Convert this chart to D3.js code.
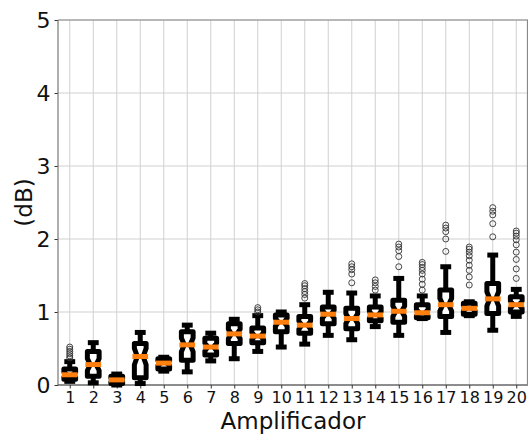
<!DOCTYPE html>
<html><head><meta charset="utf-8">
<script src="https://cdn.jsdelivr.net/npm/d3@7"></script>
<style>body{margin:0;background:#fff}svg{display:block}text{font-family:"DejaVu Sans",sans-serif}</style>
</head><body>
<svg id="c" width="528" height="434"></svg>
<script>
const categories = d3.range(1, 21).map(String);
const whiskerLo = [0.05,0.03,0.00,0.02,0.19,0.18,0.33,0.36,0.46,0.52,0.56,0.68,0.62,0.80,0.68,0.91,0.72,0.95,0.75,0.94];
const q1 =        [0.08,0.12,0.02,0.10,0.22,0.34,0.41,0.57,0.58,0.73,0.71,0.84,0.77,0.88,0.86,0.92,0.94,0.97,0.98,1.00];
const median =    [0.14,0.28,0.07,0.39,0.30,0.55,0.52,0.70,0.67,0.86,0.82,0.97,0.91,0.96,1.01,0.99,1.10,1.05,1.18,1.10];
const q3 =        [0.22,0.46,0.12,0.57,0.36,0.73,0.64,0.84,0.78,0.96,0.94,1.07,1.05,1.07,1.16,1.10,1.30,1.12,1.39,1.21];
const whiskerHi = [0.32,0.58,0.15,0.72,0.38,0.82,0.71,0.90,0.95,1.00,1.10,1.27,1.26,1.22,1.46,1.22,1.62,1.14,1.78,1.31];
const outliers = [
  [0.37,0.40,0.43,0.46,0.49,0.52],[],[],[],[],[],[],[],
  [1.00,1.03,1.06],[],
  [1.19,1.24,1.28,1.32,1.36,1.39],[],
  [1.40,1.52,1.58,1.62,1.66],
  [1.30,1.35,1.40,1.44],
  [1.62,1.76,1.84,1.89,1.93],
  [1.30,1.38,1.45,1.52,1.57,1.61,1.65,1.68],
  [1.83,2.00,2.10,2.15,2.19],
  [1.37,1.48,1.57,1.64,1.71,1.77,1.82,1.86,1.89],
  [2.03,2.21,2.33,2.38,2.43],
  [1.46,1.59,1.72,1.82,1.92,1.99,2.04,2.08,2.11]
];
const sampleN = 43;
const yTicks = [0,1,2,3,4,5];

const svg = d3.select("#c");
const L = 58, R = 528, T = 20, B = 385;
const x = d3.scaleLinear().domain([0.5, 20.5]).range([L, R]);
const y = d3.scaleLinear().domain([0, 5]).range([B, T]);
const unit = x(1) - x(0);
const bw = unit * 0.5;

// grid
const g = svg.append("g");
g.selectAll(".vg").data(categories).enter().append("line")
  .attr("x1", (d,i)=>x(i+1)).attr("x2", (d,i)=>x(i+1)).attr("y1", T).attr("y2", B)
  .attr("stroke", "#d0d0d0").attr("stroke-width", 1);
g.selectAll(".hg").data(yTicks).enter().append("line")
  .attr("x1", L).attr("x2", R).attr("y1", d=>y(d)).attr("y2", d=>y(d))
  .attr("stroke", "#d0d0d0").attr("stroke-width", 1);

// axes
const xAxis = d3.axisBottom(x).tickValues(d3.range(1,21)).tickFormat(d=>categories[d-1]).tickSize(3.5).tickPadding(3);
const gx = svg.append("g").attr("transform", `translate(0,${B})`).call(xAxis);
gx.select(".domain").remove();
gx.selectAll(".tick line").attr("stroke", "#333");
gx.selectAll("text").attr("font-size", 16).attr("fill", "#111").attr("font-family", "DejaVu Sans");
const yAxis = d3.axisLeft(y).tickValues(yTicks).tickFormat(d3.format("d")).tickSize(3.5).tickPadding(4);
const gy = svg.append("g").attr("transform", `translate(${L},0)`).call(yAxis);
gy.select(".domain").remove();
gy.selectAll(".tick line").attr("stroke", "#333");
gy.selectAll("text").attr("font-size", 22).attr("fill", "#111").attr("font-family", "DejaVu Sans");

// spines
svg.append("line").attr("x1", L).attr("x2", L).attr("y1", T).attr("y2", B).attr("stroke", "#777").attr("stroke-width", 1.2);
svg.append("line").attr("x1", L).attr("x2", R).attr("y1", B).attr("y2", B).attr("stroke", "#333").attr("stroke-width", 1.2);
svg.append("line").attr("x1", L).attr("x2", R).attr("y1", T).attr("y2", T).attr("stroke", "#888").attr("stroke-width", 1.2);
svg.append("line").attr("x1", R-0.5).attr("x2", R-0.5).attr("y1", T).attr("y2", B).attr("stroke", "#888").attr("stroke-width", 1.2);

// boxes
const boxes = svg.append("g");
categories.forEach((c, i) => {
  const cx = x(i+1);
  const iqr = q3[i] - q1[i];
  const ciLo = median[i] - 1.57*iqr/Math.sqrt(sampleN);
  const ciHi = median[i] + 1.57*iqr/Math.sqrt(sampleN);
  const bl = cx - bw/2, br = cx + bw/2, nl = cx - bw/4, nr = cx + bw/4;
  const lw = 5;
  boxes.append("line").attr("x1", cx).attr("x2", cx).attr("y1", y(q1[i])).attr("y2", y(whiskerLo[i])).attr("stroke", "#000").attr("stroke-width", lw);
  boxes.append("line").attr("x1", cx).attr("x2", cx).attr("y1", y(q3[i])).attr("y2", y(whiskerHi[i])).attr("stroke", "#000").attr("stroke-width", lw);
  [whiskerLo[i], whiskerHi[i]].forEach(v => {
    boxes.append("line").attr("x1", cx - bw/4).attr("x2", cx + bw/4).attr("y1", y(v)).attr("y2", y(v)).attr("stroke", "#000").attr("stroke-width", lw).attr("stroke-linecap", "square");
  });
  const pts = [[bl,q1[i]],[br,q1[i]],[br,ciLo],[nr,median[i]],[br,ciHi],[br,q3[i]],[bl,q3[i]],[bl,ciHi],[nl,median[i]],[bl,ciLo]];
  boxes.append("path").attr("d", d3.line().x(p=>p[0]).y(p=>y(p[1]))(pts) + "Z")
    .attr("fill", "#fff").attr("stroke", "#000").attr("stroke-width", lw).attr("stroke-linejoin", "round");
  boxes.append("line").attr("x1", bl - 2).attr("x2", br + 2).attr("y1", y(median[i])).attr("y2", y(median[i]))
    .attr("stroke", "#ff7f0e").attr("stroke-width", 5);
  outliers[i].forEach(v => {
    boxes.append("circle").attr("cx", cx).attr("cy", y(v)).attr("r", 3)
      .attr("fill", "none").attr("stroke", "#333").attr("stroke-width", 0.9);
  });
});

// labels
svg.append("text").attr("x", (L+R)/2).attr("y", 429).attr("text-anchor", "middle").attr("font-size", 23).attr("fill", "#111").text("Amplificador");
svg.append("text").attr("transform", `translate(32,${(T+B)/2}) rotate(-90)`).attr("text-anchor", "middle").attr("font-size", 23).attr("fill", "#111").text("(dB)");
</script>
</body></html>
